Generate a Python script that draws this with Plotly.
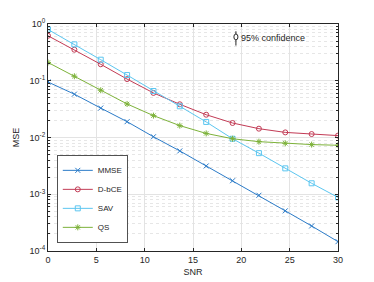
import plotly.graph_objects as go

snr = [0, 2.727, 5.455, 8.182, 10.909, 13.636, 16.364, 19.091, 21.818, 24.545, 27.273, 30]
mmse = [0.095, 0.058, 0.033, 0.019, 0.0103, 0.0058, 0.00315, 0.00173, 0.00096, 0.00051, 0.000276, 0.000146]
dbce = [0.62, 0.352, 0.195, 0.107, 0.061, 0.0385, 0.0252, 0.018, 0.0143, 0.0123, 0.0115, 0.0108]
sav = [0.80, 0.438, 0.235, 0.126, 0.066, 0.0355, 0.0188, 0.0095, 0.0053, 0.00286, 0.00156, 0.00088]
qs = [0.21, 0.12, 0.068, 0.039, 0.0243, 0.0162, 0.0118, 0.0095, 0.00845, 0.0079, 0.0075, 0.0073]

series = [
    ("MMSE", mmse, "#2B7BC8", "x-thin-open"),
    ("D-bCE", dbce, "#C23B55", "circle-open"),
    ("SAV", sav, "#5CC6F0", "square-open"),
    ("QS", qs, "#7DB23A", "asterisk-open"),
]

fig = go.Figure()
for name, vals, col, sym in series:
    fig.add_trace(go.Scatter(
        x=snr, y=vals, name=name, mode="lines+markers",
        line=dict(color=col, width=1),
        marker=dict(symbol=sym, size=5, color=col, line=dict(color=col, width=1)),
    ))

yticks = [1e-4, 1e-3, 1e-2, 1e-1, 1]
ylabels = ["10<sup>-4</sup>", "10<sup>-3</sup>", "10<sup>-2</sup>", "10<sup>-1</sup>", "10<sup>0</sup>"]

# page body has an 8px margin, so the figure is sized to fit the window
fig.update_layout(
    width=366, height=274,
    margin=dict(l=40, r=36, t=16, b=31),
    paper_bgcolor="white", plot_bgcolor="white",
    font=dict(family="Liberation Sans, Arial", size=9, color="#262626"),
    showlegend=True,
    legend=dict(x=0.031, y=0.035, xanchor="left", yanchor="bottom",
                bgcolor="white", bordercolor="#262626", borderwidth=0.8,
                font=dict(size=8), tracegroupgap=0, itemwidth=30),
    xaxis=dict(range=[0, 30], tickvals=[0, 5, 10, 15, 20, 25, 30],
               automargin=False,
               showgrid=True, gridcolor="#E3E3E3", gridwidth=1,
               showline=True, linecolor="#262626", linewidth=1, mirror="ticks",
               ticks="inside", ticklen=3, tickcolor="#262626",
               zeroline=False,
               title=dict(text="SNR", standoff=4, font=dict(size=9))),
    yaxis=dict(type="log", range=[-4, 0], tickvals=yticks, ticktext=ylabels,
               automargin=False,
               showgrid=True, gridcolor="#E3E3E3", gridwidth=1,
               showline=True, linecolor="#262626", linewidth=1, mirror="ticks",
               ticks="inside", ticklen=3, tickcolor="#262626",
               zeroline=False,
               minor=dict(dtick="D1", showgrid=True, gridcolor="#E6E6E6",
                          griddash="dot", ticks="inside", ticklen=2, tickcolor="#262626"),
               title=dict(text="MSE", standoff=8, font=dict(size=9))),
)

# "95% confidence" indicator
fig.add_shape(type="line", xref="paper", yref="paper",
              x0=0.648, x1=0.648, y0=0.905, y1=0.968,
              line=dict(color="#262626", width=1))
fig.add_shape(type="circle", xref="paper", yref="paper",
              x0=0.641, x1=0.655, y0=0.93, y1=0.956,
              line=dict(color="#262626", width=1), fillcolor="white")
fig.add_annotation(xref="paper", yref="paper", x=0.66, y=0.938,
                   text="95% confidence", showarrow=False,
                   xanchor="left", yanchor="middle", font=dict(size=9, color="#262626"))

fig.write_html("out.html")
